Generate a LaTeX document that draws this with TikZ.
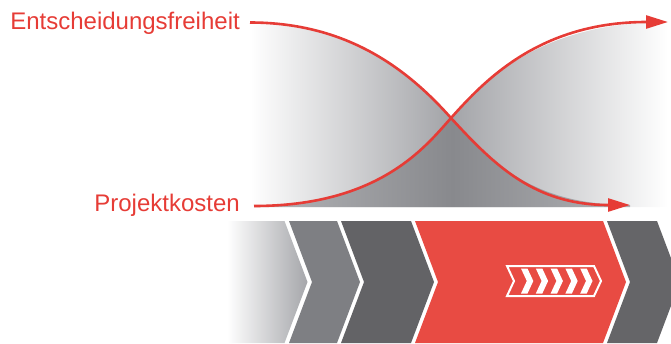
\documentclass[tikz,border=0pt]{standalone}
\usepackage{fontspec}
\setmainfont{Liberation Sans}
\usetikzlibrary{arrows.meta}
\definecolor{curvered}{HTML}{E63C36}
\definecolor{blockred}{HTML}{E84B43}
\definecolor{midgray}{HTML}{A3A4A8}
\definecolor{deepgray}{HTML}{88898D}
\definecolor{lowL}{HTML}{B4B5B8}
\definecolor{lowR}{HTML}{B0B1B4}
\definecolor{chevA}{HTML}{A5A6AA}
\definecolor{chevB}{HTML}{7E7F83}
\definecolor{chevC}{HTML}{636366}
\definecolor{chevE}{HTML}{656568}
\pgfdeclarehorizontalshading{upperfade}{100bp}{color(0bp)=(white); color(25bp)=(white); color(49bp)=(midgray); color(75bp)=(white); color(100bp)=(white)}
\pgfdeclarehorizontalshading{lowerfade}{100bp}{color(0bp)=(lowL); color(25bp)=(lowL); color(51.4bp)=(deepgray); color(75bp)=(lowR); color(100bp)=(lowR)}
\tikzset{
  lbl/.style={inner sep=0pt, text=curvered, font=\fontsize{24}{29}\selectfont},
  curve/.style={draw=curvered, line width=2.6pt, -{Triangle[length=22pt,width=13pt]}},
  stripe/.style={fill=white, draw=none},
  iconframe/.style={draw=white, line width=2pt, fill=none}
}
\begin{document}
\begin{tikzpicture}[x=1pt, y=-1pt]
\useasboundingbox (0,0) rectangle (671,343);
\clip (0,0) rectangle (671,343);

% key points
\coordinate (entstart) at (250,22.5);
\coordinate (pkstart) at (254,206);
\coordinate (cross) at (451,118);
\coordinate (entend) at (630,205);
\coordinate (pkend) at (668,22);

% gray fields
\shade[shading=upperfade] (250,207) -- (entstart) .. controls (350,22.5) and (410,72) .. (cross)
   .. controls (485,80) and (540,22) .. (pkend) -- (668,207) -- cycle;
\shade[shading=lowerfade] (254,207) -- (pkstart) .. controls (380,206) and (426,146) .. (cross)
   .. controls (495,166) and (535,205) .. (entend) -- (630,207) -- cycle;

% chevron band
\shade[left color=white, right color=chevA] (227,221) -- (284.5,221) -- (307.5,282) -- (284.5,343) -- (227,343) -- cycle;
\fill[chevB] (289,221) -- (337,221) -- (360,282) -- (337,343) -- (289,343) -- (312,282) -- cycle;
\fill[chevC] (341,221) -- (411,221) -- (434,282) -- (411,343) -- (341,343) -- (364,282) -- cycle;
\fill[blockred] (415,221) -- (603,221) -- (626,282) -- (603,343) -- (415,343) -- (438,282) -- cycle;
\fill[chevE] (607,221) -- (657,221) -- (680,282) -- (657,343) -- (607,343) -- (630,282) -- cycle;

% icon in red block
\draw[iconframe] (507,266) -- (594,266) -- (601,281) -- (594,296) -- (507,296) -- (514,281) -- cycle;
\foreach \sx in {521,535.8,550.6,565.4,580.2}{
  \fill[stripe] (\sx,268.5) -- (\sx+6.5,268.5) -- (\sx+12.3,281) -- (\sx+6.5,293.5) -- (\sx,293.5) -- (\sx+5.8,281) -- cycle;
}

% curves
\draw[curve] (entstart) .. controls (350,22.5) and (410,72) .. (cross)
   .. controls (495,166) and (535,205) .. (entend);
\draw[curve] (pkstart) .. controls (380,206) and (426,146) .. (cross)
   .. controls (485,80) and (540,22) .. (pkend);

% labels
\node[lbl, anchor=base east] (ent) at (240,29) {Entscheidungsfreiheit};
\node[lbl, anchor=base east] (pk) at (240,211) {Projektkosten};
\end{tikzpicture}
\end{document}
